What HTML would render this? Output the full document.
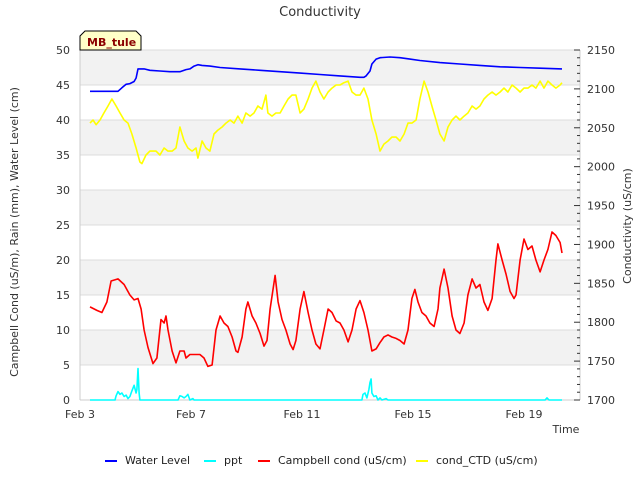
<!DOCTYPE html>
<html><head><meta charset="utf-8"><style>
body{margin:0;background:#fff;font-family:"Liberation Sans","DejaVu Sans",sans-serif;}
svg text{font-family:"DejaVu Sans","Liberation Sans",sans-serif;}
</style></head><body>
<svg id="chart" width="640" height="480" xmlns="http://www.w3.org/2000/svg">
<rect width="640" height="480" fill="#fff"/>
<text x="320" y="16" text-anchor="middle" font-size="13" fill="#333">Conductivity</text>
<g id="bands"></g><g id="grid"></g><g id="axes"></g><g id="series"></g>
<g>
<path d="M80,50 L80,36 L85,31 L136,31 L141,36 L141,50 Z" fill="#ffffc8" stroke="#000" stroke-width="1"/>
<text x="87" y="46" font-size="11" font-weight="bold" fill="#8b0000">MB_tule</text></g>
<text x="566" y="433" text-anchor="middle" font-size="11" fill="#333">Time</text>
<text transform="translate(18,232) rotate(-90)" text-anchor="middle" font-size="11" fill="#333">Campbell Cond (uS/m), Rain (mm), Water Level (cm)</text>
<text transform="translate(631,226) rotate(-90)" text-anchor="middle" font-size="11" fill="#333">Conductivity (uS/cm)</text>
<g id="legend"></g>
</svg>
<script>
const xTickLabels=["Feb 3","Feb 7","Feb 11","Feb 15","Feb 19"];
const xTickDays=[0,4,8,12,16];
const leftTicks=[0,5,10,15,20,25,30,35,40,45,50];
const rightTicks=[1700,1750,1800,1850,1900,1950,2000,2050,2100,2150];
const waterT=[0.36,1.37,1.51,1.66,1.80,1.95,2.02,2.09,2.31,2.52,2.88,3.24,3.60,3.82,3.96,4.11,4.25,4.40,4.68,5.05,5.77,6.49,7.21,7.93,8.65,9.37,10.09,10.23,10.31,10.45,10.52,10.67,10.81,11.17,11.53,11.89,12.25,12.97,13.69,14.41,15.14,15.86,16.58,17.37];
const waterV=[44.1,44.1,44.6,45.1,45.2,45.5,46,47.3,47.3,47.1,47,46.9,46.9,47.2,47.3,47.7,47.9,47.8,47.7,47.5,47.3,47.1,46.9,46.7,46.5,46.3,46.1,46.1,46.3,47,48,48.7,48.9,49,48.9,48.7,48.5,48.2,48,47.8,47.6,47.5,47.4,47.3];
const pptT=[0.36,1.26,1.30,1.37,1.44,1.51,1.59,1.66,1.73,1.80,1.87,1.95,2.02,2.05,2.09,2.13,2.16,3.53,3.60,3.68,3.75,3.82,3.89,3.96,4.07,4.11,10.16,10.20,10.27,10.34,10.41,10.45,10.49,10.52,10.59,10.67,10.74,10.81,10.88,11.03,11.10,16.76,16.83,16.90,17.37];
const pptV=[0,0,0.6,1.2,0.8,1.0,0.5,0.7,0.2,0.5,1.3,2.1,1.0,1.5,4.5,1.0,0,0,0.6,0.5,0.3,0.5,0.8,0,0.2,0,0,0.8,1,0.3,1.5,2.5,3,1,0.5,0.6,0,0.3,0,0.2,0,0,0.3,0,0];
const campT=[0.36,0.61,0.79,0.97,1.12,1.37,1.59,1.80,1.95,2.09,2.20,2.31,2.45,2.63,2.77,2.92,3.03,3.10,3.17,3.32,3.46,3.60,3.75,3.82,3.96,4.11,4.32,4.47,4.61,4.76,4.90,5.05,5.19,5.33,5.48,5.62,5.69,5.84,5.98,6.05,6.20,6.34,6.49,6.63,6.74,6.85,7.03,7.14,7.28,7.42,7.57,7.68,7.78,7.93,8.07,8.22,8.36,8.50,8.65,8.79,8.94,9.08,9.23,9.37,9.51,9.66,9.80,9.95,10.09,10.23,10.38,10.52,10.67,10.81,10.95,11.10,11.24,11.39,11.53,11.68,11.82,11.96,12.07,12.18,12.32,12.47,12.61,12.76,12.90,12.97,13.12,13.26,13.41,13.55,13.69,13.84,13.98,14.13,14.27,14.41,14.56,14.70,14.85,14.99,15.06,15.21,15.35,15.50,15.64,15.71,15.86,16.00,16.14,16.29,16.43,16.58,16.72,16.86,17.01,17.15,17.30,17.37];
const campV=[13.3,12.8,12.5,14,17,17.3,16.5,15,14.3,14.5,13,10,7.5,5.2,6,11.5,11,12,10,7,5.3,7,7,6,6.5,6.5,6.5,6,4.8,5,10,12,11,10.5,9,7,6.8,9,13,14,12,11,9.5,7.7,8.5,13,17.8,14,11.5,10,8,7.2,8.5,13,15.5,12.5,10,8,7.3,10,13,12.5,11.3,11,10,8.3,10,13,14.2,12.5,10,7,7.3,8.2,9,9.3,9,8.8,8.5,8,10,14.5,15.8,14,12.5,12,11,10.5,13,16,18.7,16,12,10,9.5,11,15,17.3,16,16.5,14,12.8,14.5,20,22.3,20,18,15.5,14.5,15,20,23,21.5,22,20,18.3,20,21.5,24,23.5,22.5,21];
const ctdT=[0.36,0.47,0.58,0.72,0.86,1.01,1.15,1.30,1.44,1.59,1.73,1.87,2.02,2.16,2.23,2.38,2.52,2.74,2.88,3.03,3.17,3.32,3.46,3.60,3.75,3.89,4.04,4.18,4.25,4.40,4.54,4.68,4.83,4.97,5.12,5.26,5.41,5.55,5.69,5.84,5.98,6.13,6.27,6.41,6.56,6.70,6.77,6.92,7.06,7.21,7.35,7.50,7.64,7.78,7.93,8.07,8.22,8.36,8.50,8.65,8.79,8.94,9.08,9.23,9.37,9.51,9.66,9.80,9.95,10.09,10.23,10.38,10.52,10.67,10.81,10.95,11.10,11.24,11.39,11.53,11.68,11.82,11.96,12.11,12.25,12.40,12.54,12.68,12.83,12.97,13.12,13.26,13.41,13.55,13.69,13.84,13.98,14.13,14.27,14.41,14.56,14.70,14.85,14.99,15.14,15.28,15.42,15.57,15.71,15.86,16.00,16.14,16.29,16.43,16.58,16.72,16.86,17.01,17.15,17.30,17.37];
const ctdV=[2056,2060,2054,2060,2069,2078,2087,2078,2069,2060,2056,2042,2024,2006,2004,2015,2020,2020,2015,2024,2020,2020,2024,2051,2033,2024,2020,2024,2011,2033,2024,2020,2042,2047,2051,2056,2060,2056,2065,2056,2069,2065,2069,2078,2074,2092,2069,2065,2069,2069,2078,2087,2092,2092,2069,2074,2087,2101,2110,2096,2087,2096,2101,2105,2105,2108,2110,2096,2092,2092,2101,2087,2060,2042,2020,2029,2033,2038,2038,2033,2042,2056,2056,2060,2087,2110,2096,2078,2060,2042,2033,2051,2060,2065,2060,2065,2069,2078,2074,2078,2087,2092,2096,2092,2096,2101,2096,2105,2101,2096,2101,2101,2105,2101,2110,2101,2110,2105,2101,2105,2108];

const NS="http://www.w3.org/2000/svg";
const X0=80,X1=580,Y0=400,Y1=50,PXDAY=27.75;
const xs=t=>X0+t*PXDAY;
const yl=v=>Y0-(v-0)/(50-0)*(Y0-Y1);
const yr=v=>Y0-(v-1700)/(2150-1700)*(Y0-Y1);
function mk(tag,attrs,parent){const e=document.createElementNS(NS,tag);for(const k in attrs)e.setAttribute(k,attrs[k]);parent.appendChild(e);return e;}
const bands=document.getElementById('bands'),grid=document.getElementById('grid'),axes=document.getElementById('axes'),ser=document.getElementById('series'),leg=document.getElementById('legend');
mk('rect',{x:X0,y:Y1,width:X1-X0,height:Y0-Y1,fill:'#fff'},bands);
for(let i=0;i<leftTicks.length-1;i++){
  if(i%2===1){const r=mk('rect',{x:X0,y:yl(leftTicks[i+1]),width:X1-X0,height:yl(leftTicks[i])-yl(leftTicks[i+1]),fill:'#f2f2f2'},bands);
  
  }
}
leftTicks.forEach(v=>{
  const l=mk('line',{x1:X0,x2:X1,y1:yl(v),y2:yl(v),stroke:'#dcdcdc','stroke-width':1},grid);
  
  
  const t=mk('text',{x:70,y:yl(v)+4,'text-anchor':'end','font-size':11,fill:'#333'},axes);
  t.textContent=v;
  
  
});
mk('line',{x1:X0,x2:X0,y1:Y1,y2:Y0,stroke:'#ccc'},axes);
mk('line',{x1:X1,x2:X1,y1:Y1,y2:Y0,stroke:'#ccc'},axes);
mk('line',{x1:X0,x2:X1,y1:Y0,y2:Y0,stroke:'#ccc'},axes);
for(let v=1700;v<=2150;v+=10){
  const major=(v%50===0);
  mk('line',{x1:X1-(major?6:3),x2:X1,y1:yr(v),y2:yr(v),stroke:'#333'},axes);
}
rightTicks.forEach(v=>{
  const t=mk('text',{x:587,y:yr(v)+4,'font-size':11,fill:'#333'},axes);
  t.textContent=v;
  
  
});
xTickDays.forEach((d,i)=>{
  const t=mk('text',{x:xs(d),y:418,'text-anchor':'middle','font-size':11,fill:'#333'},axes);
  t.textContent=xTickLabels[i];
  
  
});
function line(T,V,ys,color,name){
  const p=T.map((t,i)=>(i?'L':'M')+xs(t).toFixed(1)+','+ys(V[i]).toFixed(1)).join('');
  const e=mk('path',{d:p,fill:'none',stroke:color,'stroke-width':1.6,'stroke-linejoin':'round'},ser);
  
  
}
line(ctdT,ctdV,yr,'#ffff00','cond-ctd-line');
line(campT,campV,yl,'#ff0000','campbell-cond-line');
line(pptT,pptV,yl,'#00ffff','ppt-line');
line(waterT,waterV,yl,'#0000ff','water-level-line');
const legItems=[["Water Level","#0000ff",105],["ppt","#00ffff",204],["Campbell cond (uS/cm)","#ff0000",258],["cond_CTD (uS/cm)","#ffff00",416]];
legItems.forEach(it=>{
  const g=mk('g',{},leg);
  
  
  mk('line',{x1:it[2],x2:it[2]+12,y1:461,y2:461,stroke:it[1],'stroke-width':2},g);
  const t=mk('text',{x:it[2]+20,y:464,'font-size':11,fill:'#222'},g);
  t.textContent=it[0];
});
</script>
</body></html>
